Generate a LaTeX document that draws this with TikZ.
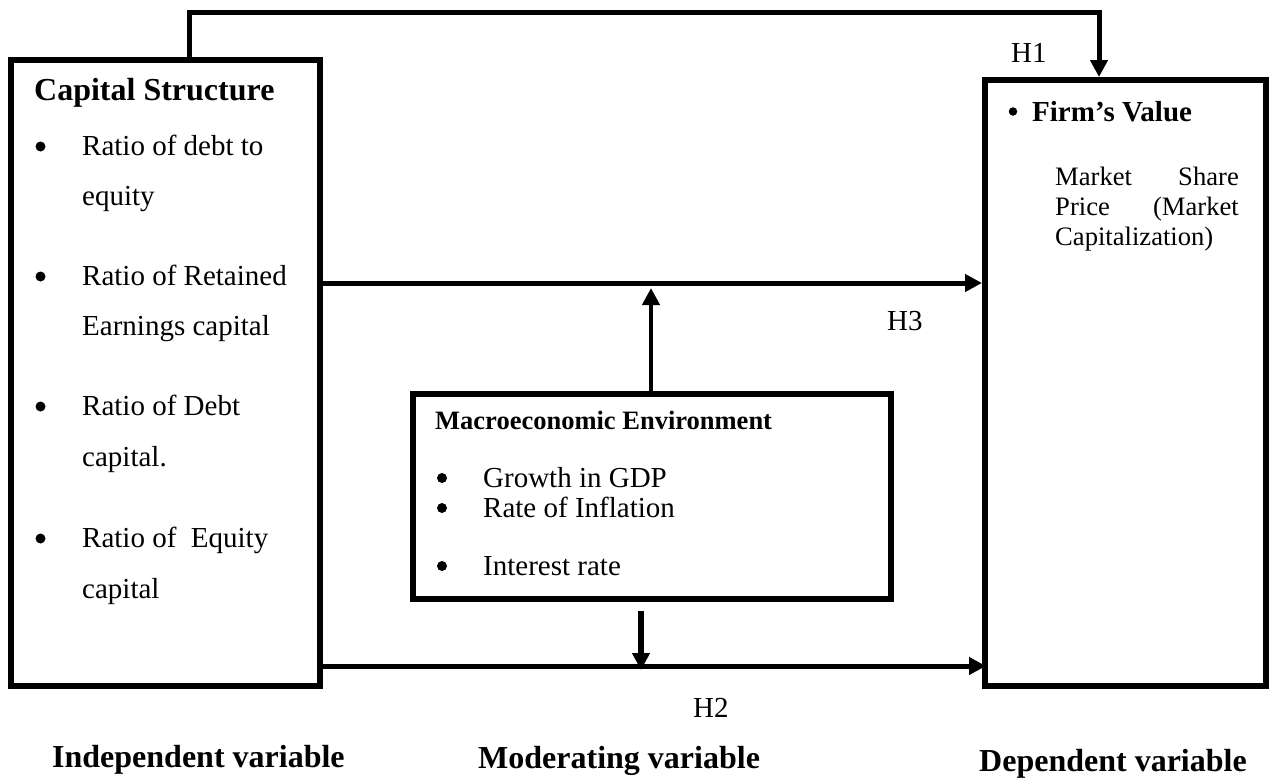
\documentclass[tikz,border=0pt]{standalone}
\usepackage{fontspec}
\setmainfont{Liberation Serif}
\usetikzlibrary{arrows.meta}
\tikzset{
  box/.style={draw=black, line width=6pt, rectangle, inner sep=0pt},
  conn/.style={draw=black, line width=5pt},
  arr/.style={conn, -{Triangle[length=17pt,width=17pt]}},
  txt/.style={inner sep=0pt, anchor=base west, font=\fontsize{29}{35}\selectfont},
  rtxt/.style={inner sep=0pt, anchor=base west, font=\fontsize{26.6}{32}\selectfont},
  bul/.style={circle, fill=black, inner sep=0pt, minimum size=10pt},
  head/.style={inner sep=0pt, anchor=base west, font=\fontsize{32}{38}\selectfont\bfseries},
  subhead/.style={inner sep=0pt, anchor=base west, font=\fontsize{26.5}{32}\selectfont\bfseries}
}
\begin{document}
\begin{tikzpicture}[x=1pt,y=-1pt]
\useasboundingbox (0,0) rectangle (1272,780);
% boxes
\node[box, minimum width=309, minimum height=626] (lbox) at (165.5,373) {};
\node[box, minimum width=281, minimum height=606] (rbox) at (1125.5,383) {};
\node[box, minimum width=478, minimum height=205] (mbox) at (652,496.5) {};
% helper coordinates
\coordinate (t1) at (189,12);
\coordinate (t2) at (1099,12);
\coordinate (h3y) at (0,283);
\coordinate (h2y) at (0,666);
\coordinate (up) at (651,288);
\coordinate (dn) at (641,670);
% connectors
\draw[arr, line join=miter] (lbox.north -| t1) -- (t1) -- (t2) -- (rbox.north -| t2);
\draw[arr] (lbox.east |- h3y) -- (rbox.west |- h3y);
\draw[arr, line width=4.5pt] (mbox.north -| up) -- (up);
\draw[arr, line width=6pt, shorten <=9pt] (mbox.south -| dn) -- (dn);
\draw[arr, shorten >=-4pt] (lbox.east |- h2y) -- (rbox.west |- h2y);
% left box text
\node[head] (cs) at (34,100) {Capital Structure};
\node[bul] (b1) at (40.5,146.5) {};
\node[txt] (l1a) at (82,155) {Ratio of debt to};
\node[txt] (l1b) at (82,205) {equity};
\node[bul] (b2) at (40.5,276.5) {};
\node[txt] (l2a) at (82,285) {Ratio of Retained};
\node[txt] (l2b) at (82,335) {Earnings capital};
\node[bul] (b3) at (40.5,406.5) {};
\node[txt] (l3a) at (82,415) {Ratio of Debt};
\node[txt] (l3b) at (82,466) {capital.};
\node[bul] (b4) at (40.5,538.5) {};
\node[txt] (l4a) at (82,547) {Ratio of\ \ Equity};
\node[txt] (l4b) at (82,598) {capital};
% right box text
\node[bul, minimum size=8.5pt] (rb) at (1013,111.5) {};
\node[txt, font=\fontsize{29}{35}\selectfont\bfseries] (fv) at (1032,121) {Firm’s Value};
\node[rtxt] (m1) at (1055,185) {Market};
\node[rtxt, anchor=base east] (m2) at (1239,185) {Share};
\node[rtxt] (m3) at (1055,215) {Price};
\node[rtxt, anchor=base east] (m4) at (1239,215) {(Market};
\node[rtxt] (m5) at (1055,245) {Capitalization)};
% macro box text
\node[subhead] (me) at (435,429) {Macroeconomic Environment};
\node[bul] (mb1) at (442,478) {};
\node[txt] (g1) at (483,487) {Growth in GDP};
\node[bul] (mb2) at (442,508) {};
\node[txt] (g2) at (483,517) {Rate of Inflation};
\node[bul] (mb3) at (442,566) {};
\node[txt] (g3) at (483,575) {Interest rate};
% hypothesis labels
\node[txt] (H1) at (1011,62) {H1};
\node[txt] (H3) at (887,330) {H3};
\node[txt] (H2) at (693,717) {H2};
% bottom labels
\node[head] (iv) at (52,767) {Independent variable};
\node[head] (mv) at (478,768) {Moderating variable};
\node[head] (dv) at (979,771) {Dependent variable};
\end{tikzpicture}
\end{document}
